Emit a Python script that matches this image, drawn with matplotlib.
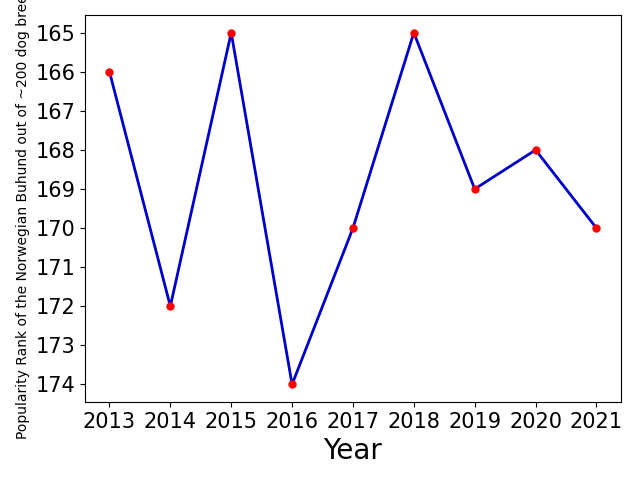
import matplotlib
matplotlib.use("Agg")
import matplotlib.pyplot as plt

# Popularity rank by year
years = [2013, 2014, 2015, 2016, 2017, 2018, 2019, 2020, 2021]
ranks = [166, 172, 165, 174, 170, 165, 169, 168, 170]

fig = plt.figure(figsize=(6.4, 4.8), dpi=100)
ax = fig.add_axes([0.133, 0.1625, 0.837, 0.806])

ax.plot(years, ranks, color="#0000cc", linewidth=2)
ax.scatter(years, ranks, color="red", s=25, zorder=3)

ax.invert_yaxis()
ax.set_xticks(years)
ax.set_yticks(range(165, 175))
ax.tick_params(labelsize=15)
ax.set_xlabel("Year", fontsize=20)
ax.set_ylabel("Popularity Rank of the Norwegian Buhund out of ~200 dog breeds", fontsize=10)

fig.savefig("out.png")
